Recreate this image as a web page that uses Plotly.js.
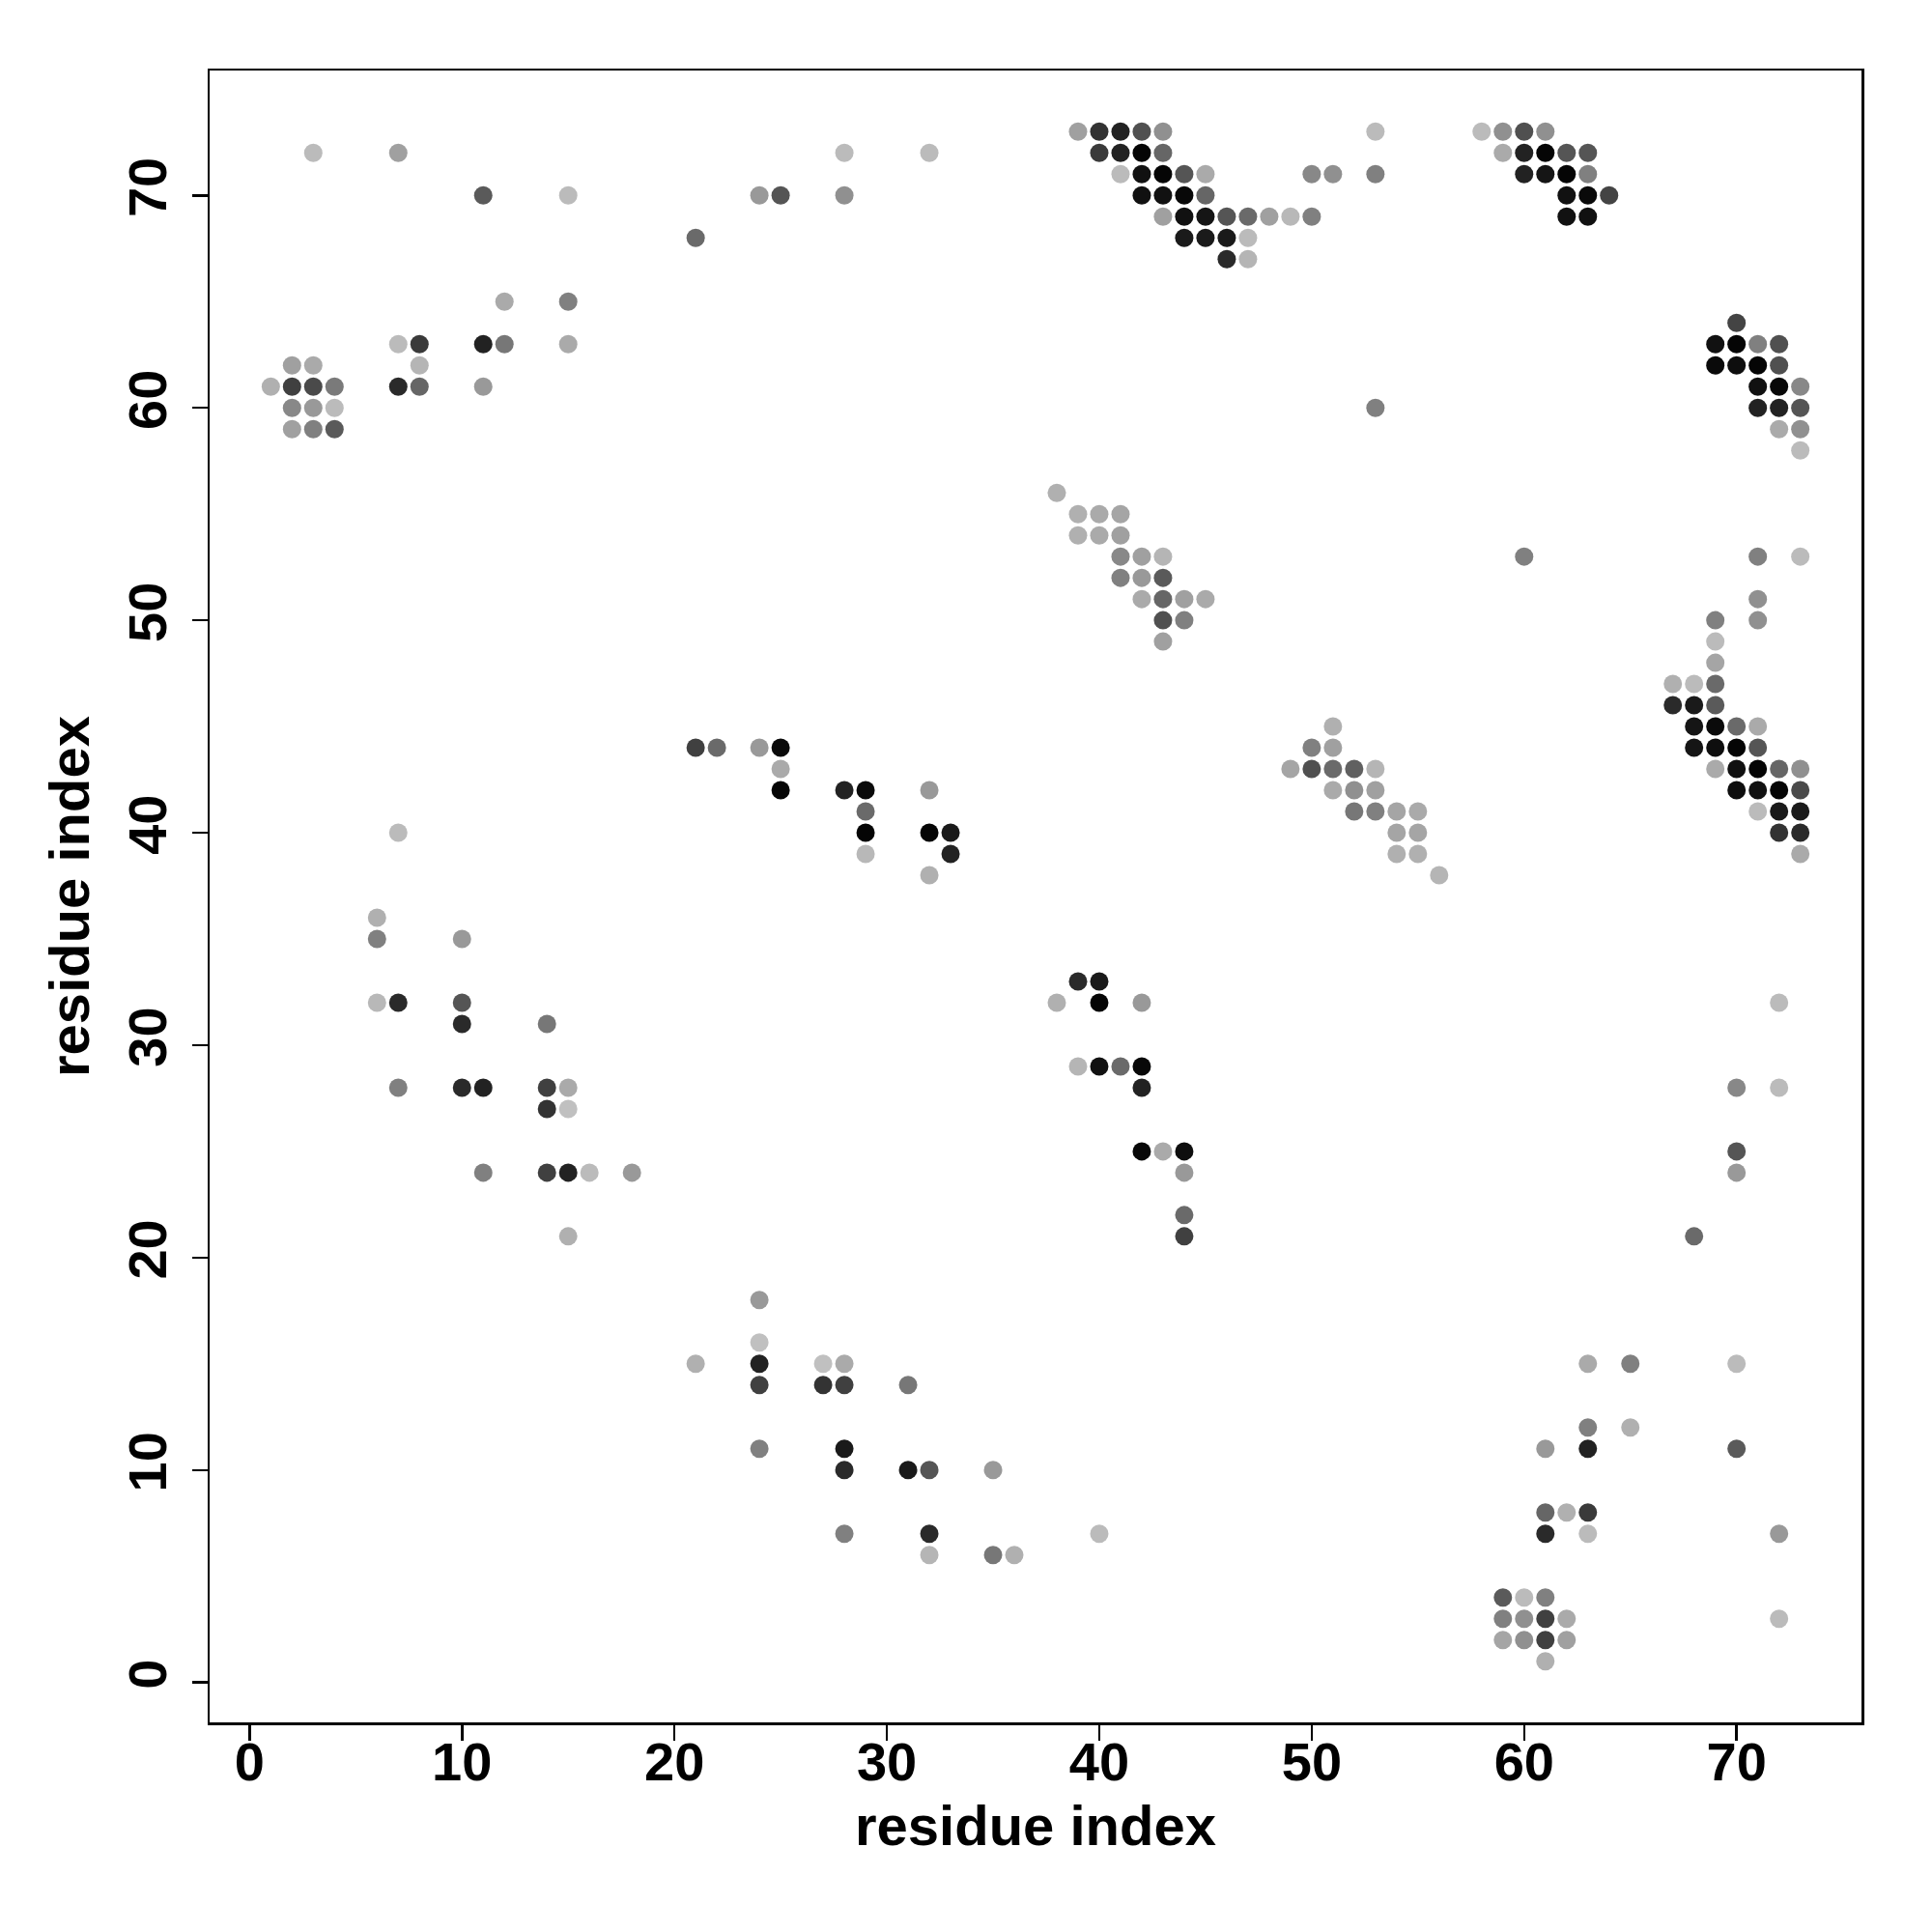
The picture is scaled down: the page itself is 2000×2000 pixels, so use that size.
<!DOCTYPE html>
<html>
<head>
<meta charset="utf-8">
<script src="https://cdn.plot.ly/plotly-3.0.1.min.js"></script>
<style>html,body{margin:0;padding:0;background:#fff;}#chart{width:2000px;height:2000px;}</style>
</head>
<body>
<div id="chart"></div>
<script>
// residue i (x), residue j (y), and grey level of each contact (0 = black, 255 = white)
const resI = [
  3,7,11,15,12,15,7,8,11,12,15,8,7,8,11,2,3,1,2,3,4,2,3,4,2,3,4,
  28,32,24,25,28,21,
  39,40,41,42,43,53,40,41,42,43,41,42,43,44,45,50,51,53,42,43,44,45,43,44,45,46,47,48,49,50,44,45,46,47,46,47,
  58,59,60,61,59,60,61,62,63,60,61,62,63,62,63,64,62,63,
  70,69,70,71,72,69,70,71,72,71,72,73,71,72,73,72,73,73,53,
  38,39,40,41,39,40,41,41,42,43,41,42,43,42,43,44,45,43,44,43,
  51,50,51,49,50,51,52,53,51,52,53,52,53,54,55,54,55,54,55,56,
  60,71,73,71,69,71,69,69,67,68,69,67,68,69,68,69,70,71,68,69,70,71,69,70,71,72,73,70,71,72,73,71,72,73,72,73,73,
  7,6,6,10,6,7,10,10,14,7,10,11,14,15,14,15,11,14,15,16,18,15,
  21,22,24,25,25,25,28,29,32,29,29,32,33,29,33,32,
  39,40,38,40,42,39,40,41,42,42,42,43,44,44,44,44,
  24,24,21,24,27,28,24,27,28,31,24,28,28,31,32,35,28,32,40,32,35,36,
  63,65,70,63,65,61,63,70,61,62,63,61,63,72,59,60,61,59,60,61,62,72,59,60,61,62,61,
  72,70,72,70,70,68
];
const resJ = [
  72,72,70,70,65,65,63,63,63,63,63,62,61,61,61,62,62,61,61,61,61,60,60,60,59,59,59,
  72,72,70,70,70,68,
  73,73,73,73,73,73,72,72,72,72,71,71,71,71,71,71,71,71,70,70,70,70,69,69,69,69,69,69,69,69,68,68,68,68,67,67,
  73,73,73,73,72,72,72,72,72,71,71,71,71,70,70,70,69,69,
  64,63,63,63,63,62,62,62,62,61,61,61,60,60,60,59,59,58,60,
  56,55,55,55,54,54,54,53,53,53,52,52,52,51,51,51,51,50,50,49,
  45,44,44,43,43,43,43,43,42,42,42,41,41,41,41,40,40,39,39,38,
  53,53,53,51,50,50,49,48,47,47,47,46,46,46,45,45,45,45,44,44,44,44,43,43,43,43,43,42,42,42,42,41,41,41,40,40,39,
  40,36,35,35,32,32,32,31,31,28,28,28,28,28,27,27,24,24,24,24,24,21,
  44,44,44,44,43,42,42,42,42,41,40,40,40,39,39,38,
  33,33,32,32,32,29,29,29,29,28,25,25,25,24,22,21,
  18,16,15,15,15,15,14,14,14,14,11,11,10,10,10,10,7,7,7,6,6,6,
  15,15,15,12,12,11,11,11,8,8,8,7,7,7,4,4,4,3,3,3,3,3,2,2,2,2,1,
  32,28,28,25,24,21
];
const greyLevel = [
  187,160,90,187,170,128,187,58,34,119,170,181,42,102,153,160,170,176,64,74,122,136,153,187,160,128,90,
  187,187,153,85,144,106,
  160,51,34,80,144,187,58,34,5,102,187,17,5,85,170,136,144,128,17,17,8,102,160,17,21,85,106,160,184,128,26,26,26,187,42,181,
  187,144,80,144,170,34,5,85,85,34,21,5,128,17,10,68,17,17,
  68,17,5,128,80,10,14,5,80,17,8,136,34,34,85,170,144,187,128,
  176,176,170,165,176,170,160,136,160,181,128,153,90,170,102,160,170,80,128,160,
  176,128,160,165,80,106,96,181,170,144,160,119,128,165,170,165,165,176,176,181,
  128,128,187,144,128,144,187,165,176,187,106,42,26,90,21,10,106,170,21,14,5,85,170,17,5,102,144,14,17,5,74,187,26,26,51,42,170,
  187,176,128,153,184,42,85,42,119,128,42,34,64,170,51,192,128,64,34,187,153,176,
  64,106,153,10,170,5,34,10,153,106,5,5,26,184,34,176,
  42,26,176,5,153,181,17,106,8,34,8,170,14,153,106,64,
  153,192,176,34,192,170,64,51,64,119,128,26,42,26,85,153,128,42,187,181,119,176,
  170,128,187,128,176,153,34,90,102,176,58,42,187,153,90,187,128,128,144,64,170,187,165,144,64,160,176,
  187,136,187,85,153,106
];
const tickVals = [0,10,20,30,40,50,60,70];
const tickText = ['0','10','20','30','40','50','60','70'];
const axisTitle = 'residue index';

const fontFam = '"Liberation Sans", Arial, Helvetica, sans-serif';
const trace = {
  type: 'scatter',
  mode: 'markers',
  x: resI,
  y: resJ,
  marker: {
    size: 19,
    color: greyLevel,
    cmin: 0,
    cmax: 255,
    colorscale: [[0,'rgb(0,0,0)'],[1,'rgb(255,255,255)']],
    showscale: false,
    line: {width: 0}
  },
  hoverinfo: 'x+y'
};
const axisCommon = {
  range: [-1.88, 75.88],
  tickvals: tickVals,
  ticktext: tickText,
  ticks: 'outside',
  ticklen: 16,
  tickwidth: 2.5,
  tickcolor: '#000',
  showline: true,
  linecolor: '#000',
  linewidth: 2.5,
  mirror: true,
  showgrid: false,
  zeroline: false,
  tickfont: {family: fontFam, size: 56, color: '#000', weight: 'bold'},
  automargin: false
};
const layout = {
  width: 2000,
  height: 2000,
  margin: {l: 217, r: 73, t: 73, b: 217},
  paper_bgcolor: '#fff',
  plot_bgcolor: '#fff',
  showlegend: false,
  xaxis: Object.assign({}, axisCommon, {
    ticklabelstandoff: -26,
    title: {text: axisTitle, font: {family: fontFam, size: 58, color: '#000', weight: 'bold'}, standoff: 16}
  }),
  yaxis: Object.assign({}, axisCommon, {
    tickangle: -90,
    ticklabelstandoff: 4,
    title: {text: axisTitle, font: {family: fontFam, size: 58, color: '#000', weight: 'bold'}, standoff: 10}
  })
};
Plotly.newPlot('chart', [trace], layout, {staticPlot: true});
</script>
</body>
</html>
